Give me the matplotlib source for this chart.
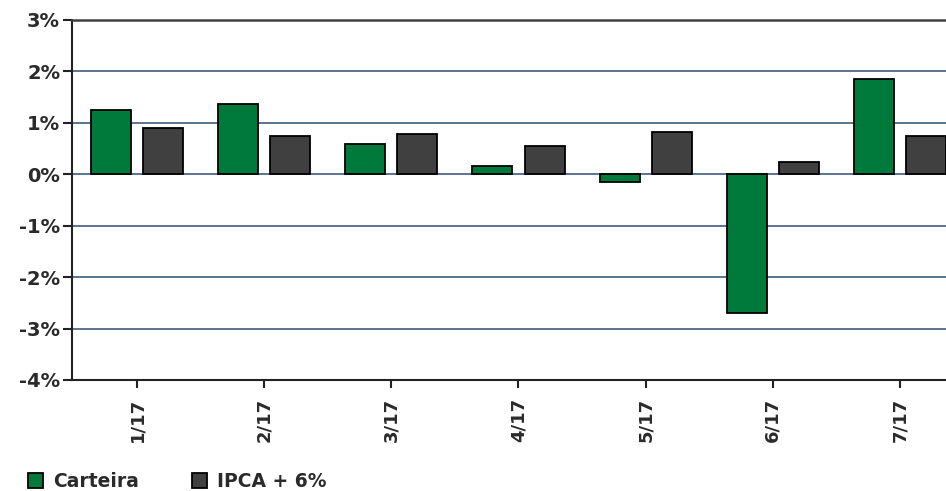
from matplotlib import pyplot as plt
from matplotlib.patches import Patch
import numpy as np

months = ["1/17", "2/17", "3/17", "4/17", "5/17", "6/17", "7/17"]
carteira = [1.25, 1.36, 0.58, 0.16, -0.16, -2.70, 1.86]
ipca_6 = [0.90, 0.74, 0.78, 0.55, 0.82, 0.23, 0.74]
yticks = [3, 2, 1, 0, -1, -2, -3, -4]

GREEN = "#007a3a"
DARK = "#404040"
GRID = "#5b7490"
TXT = "#2a2a2a"

plt.rcParams['font.family'] = ['DejaVu Sans']

fig = plt.figure(figsize=(9.46, 4.91), dpi=100)
ax = fig.add_axes([0.0761, 0.2261, 0.93, 0.7332])

x = np.arange(len(months))
w = 0.315
off = 0.205
ax.bar(x - off, carteira, w, color=GREEN, edgecolor="black", linewidth=1.3, zorder=3)
ax.bar(x + off, ipca_6, w, color=DARK, edgecolor="black", linewidth=1.3, zorder=3)

ax.set_xlim(-0.511, 6.407)
ax.set_ylim(-4, 3)
ax.set_yticks(yticks)
ax.set_yticklabels([f"{v}%" for v in yticks], fontsize=14, fontweight="bold", color=TXT)
ax.set_xticks(x)
ax.set_xticklabels(months, rotation=90, fontsize=13, fontweight="bold", color=TXT)

for v in yticks[1:-1]:
    ax.axhline(v, color=GRID, linewidth=1.4, zorder=1)

for s in ["left", "bottom"]:
    ax.spines[s].set_color("#222222")
    ax.spines[s].set_linewidth(1.5)
ax.spines["top"].set_color(DARK)
ax.spines["top"].set_linewidth(1.8)
ax.spines["right"].set_visible(False)
ax.tick_params(axis="y", length=6.5, width=1.5, color="#222222", pad=2)
ax.tick_params(axis="x", length=5.8, width=1.5, color="#222222", pad=7)

handles = [Patch(facecolor=GREEN, edgecolor="black", linewidth=1.3, label="Carteira"),
           Patch(facecolor=DARK, edgecolor="black", linewidth=1.3, label="IPCA + 6%")]
leg = fig.legend(handles=handles, loc="lower left", bbox_to_anchor=(0.0296, 0.0), ncol=2,
                 frameon=False, prop=dict(size=13.5, weight="bold"),
                 handlelength=0.8, handleheight=0.8,
                 handletextpad=0.55, columnspacing=2.8, borderaxespad=0, borderpad=0)
for t in leg.get_texts():
    t.set_color(TXT)

fig.savefig("out.png", dpi=100)
